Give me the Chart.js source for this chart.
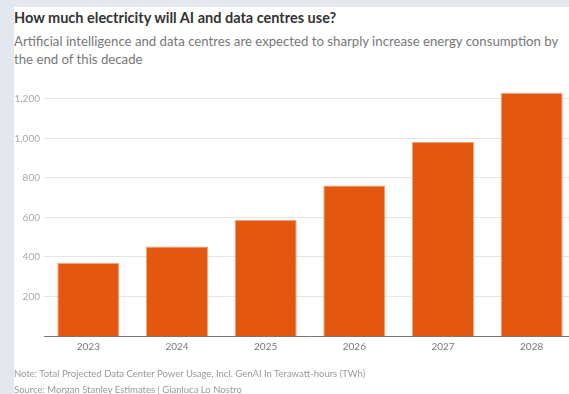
<!DOCTYPE html>
<html>
<head>
<meta charset="utf-8">
<script src="https://cdn.jsdelivr.net/npm/chart.js@4"></script>
<style>
  html, body { margin: 0; padding: 0; width: 569px; height: 394px; overflow: hidden; background: #e3e7ef; }
  #panel { position: absolute; left: 14px; top: 7px; width: 600px; height: 400px; background: #fff; }
  #chartBox { position: absolute; left: 0; top: 69px; }
  .txt { position: absolute; left: 14px; font-family: Lato, "Open Sans", sans-serif; white-space: nowrap; }
  #title { top: 9px; font-size: 14.5px; font-weight: bold; color: #333; }
  #subtitle { top: 32px; font-size: 13.2px; line-height: 18px; color: #777; white-space: normal; width: 552px; }
  #note { top: 368px; font-size: 9.5px; color: #999; }
  #source { top: 384px; font-size: 9.5px; color: #999; }
  #leftStrip { position: absolute; left: 0; top: 0; width: 14px; height: 394px; background: #e3e7ef; }
</style>
</head>
<body>
<div id="panel"></div>
<div id="chartBox"><canvas id="powerChart" width="576" height="300"></canvas></div>
<div class="txt" id="title">How much electricity will AI and data centres use?</div>
<div class="txt" id="subtitle">Artificial intelligence and data centres are expected to sharply increase energy consumption by the end of this decade</div>
<div class="txt" id="note">Note: Total Projected Data Center Power Usage, Incl. GenAI In Terawatt-hours (TWh)</div>
<div class="txt" id="source">Source: Morgan Stanley Estimates | Gianluca Lo Nostro</div>
<div id="leftStrip"></div>
<script>
// Data
const years = ['2023', '2024', '2025', '2026', '2027', '2028'];
const powerUsage = [370, 453, 587, 761, 982, 1231];
const yTicks = [200, 400, 600, 800, 1000, 1200];

const ctx = document.getElementById('powerChart').getContext('2d');
new Chart(ctx, {
    type: 'bar',
    data: {
        labels: years,
        datasets: [{
            label: 'TWh',
            data: powerUsage,
            backgroundColor: '#e4570f',
            borderColor: '#f3a67c',
            borderWidth: 1,
            categoryPercentage: 1,
            barPercentage: 0.7
        }]
    },
    options: {
        responsive: false,
        animation: false,
        layout: { padding: { top: 0, bottom: 19, left: 0, right: 0 } },
        plugins: {
            legend: { display: false },
            tooltip: { enabled: false }
        },
        scales: {
            x: {
                grid: { display: false },
                border: { display: true, color: '#777', width: 1 },
                ticks: {
                    color: '#777',
                    padding: -3,
                    font: { family: 'Lato', size: 10 }
                }
            },
            y: {
                min: 0,
                max: 1300,
                afterBuildTicks: scale => {
                    scale.ticks = yTicks.map(v => ({ value: v }));
                },
                afterFit: scale => {
                    scale.width = 44;
                },
                grid: { color: '#e4e4e4', drawTicks: false },
                border: { display: false },
                ticks: {
                    color: '#aaa',
                    padding: 4,
                    font: { family: 'Lato', size: 10 },
                    callback: v => v.toLocaleString('en-US')
                }
            }
        }
    }
});
</script>
</body>
</html>
